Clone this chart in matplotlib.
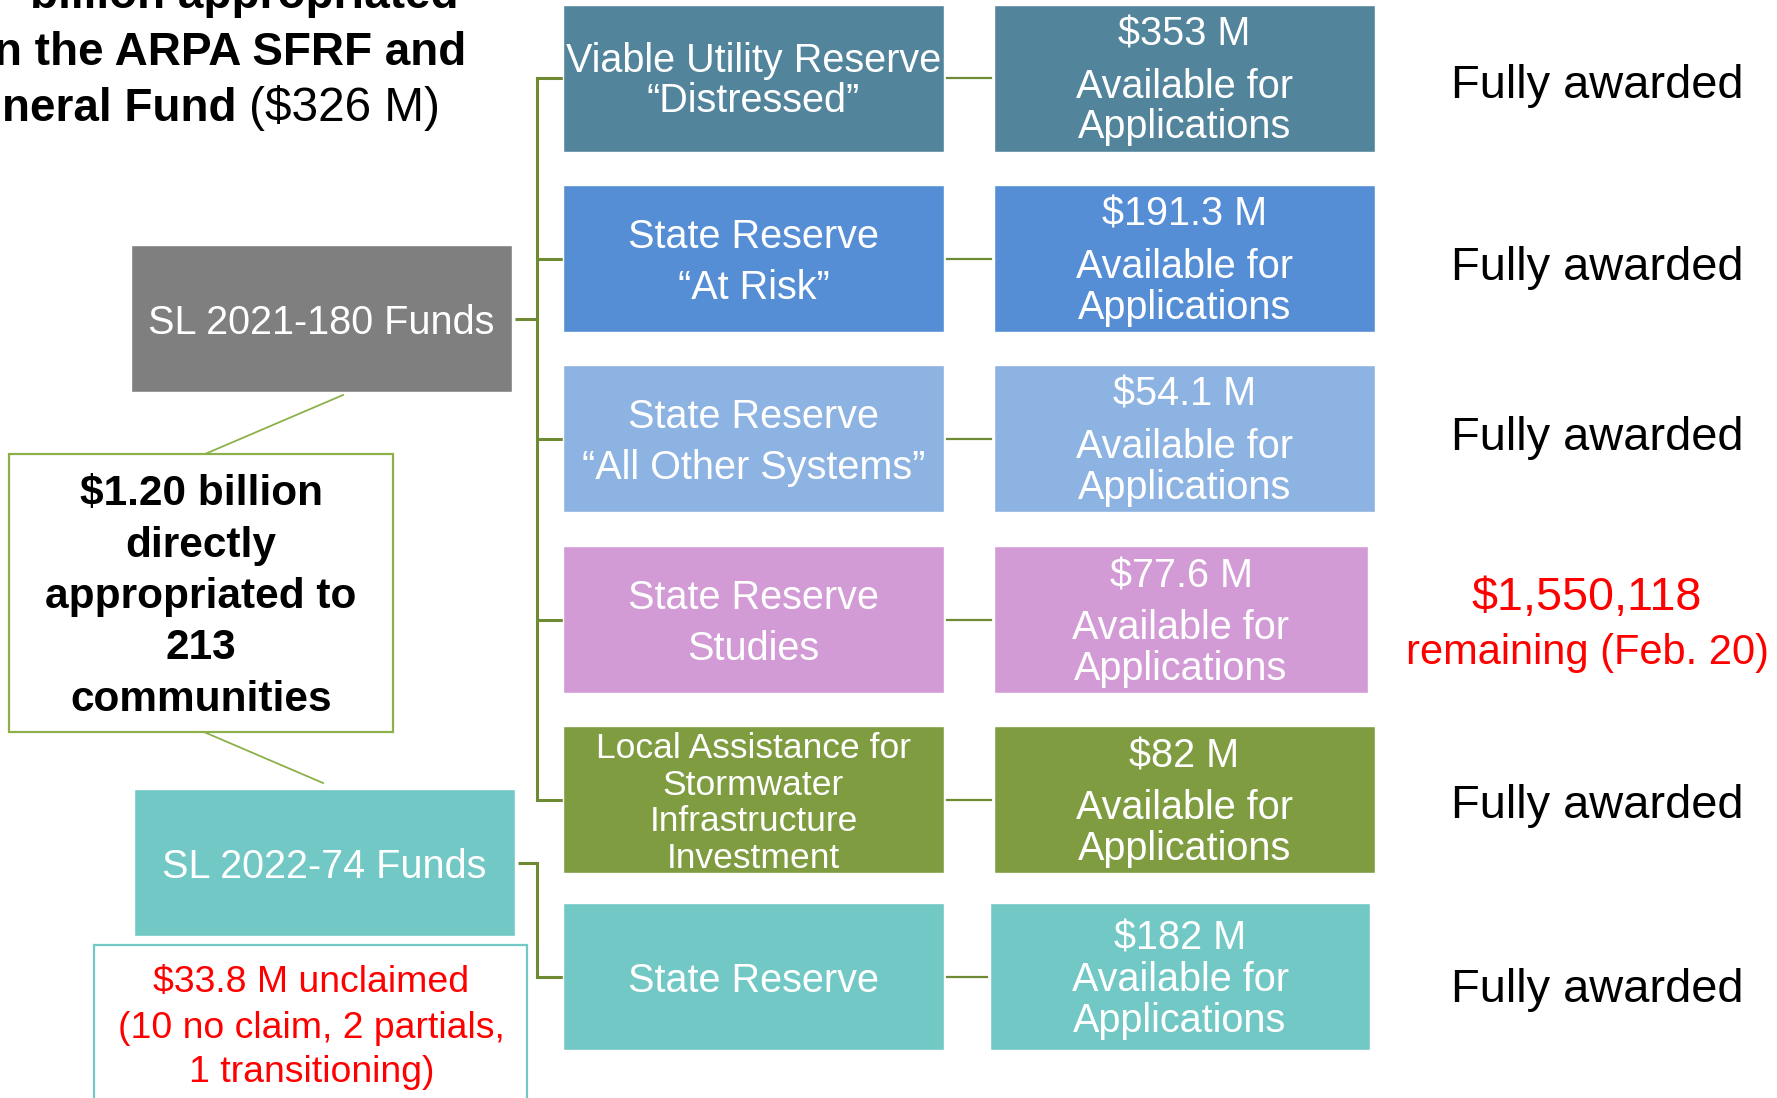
import matplotlib
import matplotlib.pyplot as plt
from matplotlib.patches import Rectangle

matplotlib.use('Agg')

# --- content ---------------------------------------------------------------
TITLE_LINES = ["billion appropriated", "n the ARPA SFRF and", "neral Fund"]
TITLE_TAIL = "($326 M)"

SOURCES = ["SL 2021-180 Funds", "SL 2022-74 Funds"]
SUMMARY = ["$1.20 billion", "directly", "appropriated to", "213", "communities"]
UNCLAIMED = ["$33.8 M unclaimed", "(10 no claim, 2 partials,", "1 transitioning)"]

PROGRAMS = [
    ["Viable Utility Reserve", "\u201cDistressed\u201d"],
    ["State Reserve", "\u201cAt Risk\u201d"],
    ["State Reserve", "\u201cAll Other Systems\u201d"],
    ["State Reserve", "Studies"],
    ["Local Assistance for", "Stormwater", "Infrastructure", "Investment"],
    ["State Reserve"],
]
PROGRAM_SOURCE = [0, 0, 0, 0, 0, 1]
AMOUNTS = ["$353 M", "$191.3 M", "$54.1 M", "$77.6 M", "$82 M", "$182 M"]
STATUS = ["Fully awarded", "Fully awarded", "Fully awarded",
          None, "Fully awarded", "Fully awarded"]
REMAINING = ["$1,550,118", "remaining (Feb. 20)"]

PROGRAM_COLORS = ["#52849C", "#558ED5", "#8DB3E2", "#D29BD6", "#7F9C41", "#71C8C5"]
SOURCE_COLORS = ["#7F7F7F", "#71C8C5"]

LINK = "#6E8A32"
NOTE_GREEN = "#8DB04A"
RED = "#FF0000"

# --- layout (pixel space, y downward) --------------------------------------
W, H = 1777, 1098
MID_X = (563, 944)
RIGHT_X = (994, 1375)
ROW_TOP = [4.5, 185, 365, 546, 726, 903]
ROW_H = 147
STATUS_DY = [4, 5.5, -4.5, 0, 2.5, 9.5]
TRUNK_X = 537
SRC_BOX = [(131, 245, 381, 147), (134, 789, 381, 147)]
NOTE_BOX = (9, 454, 384, 278)
UNCL_BOX = (94, 945, 433, 200)
DY = 4  # va='center' sits a little high for this font

plt.rcParams['font.family'] = ['Liberation Sans', 'DejaVu Sans']

fig = plt.figure(figsize=(W / 100, H / 100), dpi=100)
ax = fig.add_axes([0, 0, 1, 1])
ax.set_xlim(0, W)
ax.set_ylim(H, 0)
ax.axis('off')


def box(x, y, w, h, color):
    ax.add_patch(Rectangle((x, y), w, h, facecolor=color,
                           edgecolor='white', linewidth=1, zorder=2))


def label(x, y, t, **kw):
    ax.text(x, y + DY, t, ha='center', va='center', zorder=4, **kw)


def lines(x, yc, rows, spacing, **kw):
    n = len(rows)
    for i, t in enumerate(rows):
        label(x, yc + (i - (n - 1) / 2) * spacing, t, **kw)


# title (cut by the slide edge)
for t, xr, yb in zip(TITLE_LINES, [459, 466, 236], [8, 65, 121]):
    ax.text(xr, yb, t, ha='right', va='baseline', fontsize=33,
            fontweight='bold', color='black')
ax.text(249, 121, TITLE_TAIL, ha='left', va='baseline', fontsize=34.4,
        color='black')

# source boxes
for (x, y, w, h), name, c in zip(SRC_BOX, SOURCES, SOURCE_COLORS):
    box(x, y, w, h, c)
    label(x + w / 2, y + h / 2, name, fontsize=28.5, color='white')

# summary note between the two source boxes
nx, ny, nw, nh = NOTE_BOX
ax.add_patch(Rectangle((nx, ny), nw, nh, facecolor='white',
                       edgecolor=NOTE_GREEN, linewidth=1.6, zorder=2))
ax.plot([343, 205], [395, ny], color=NOTE_GREEN, lw=1.3, zorder=1)
ax.plot([204, 323], [ny + nh, 783], color=NOTE_GREEN, lw=1.3, zorder=1)
lines(nx + nw / 2, 593, SUMMARY, 51.3, fontsize=30.5,
      fontweight='bold', color='black')

# unclaimed note
ux, uy, uw, uh = UNCL_BOX
ax.add_patch(Rectangle((ux, uy), uw, uh, facecolor='white',
                       edgecolor=SOURCE_COLORS[1], linewidth=1.6, zorder=2))
lines(ux + uw / 2 + 1, 1024, UNCLAIMED, 45, fontsize=26.9, color=RED)

# tree connectors
centers = [t + ROW_H / 2 for t in ROW_TOP]
src_rows = [[c for c, s in zip(centers, PROGRAM_SOURCE) if s == k] for k in (0, 1)]
for k, (x, y, w, h) in enumerate(SRC_BOX):
    ys = y + h / 2
    rows = src_rows[k]
    ax.plot([x + w + 3, TRUNK_X], [ys, ys], color=LINK, lw=2.2,
            solid_capstyle='butt', zorder=1)
    ax.plot([TRUNK_X, TRUNK_X], [min(rows + [ys]), max(rows + [ys])],
            color=LINK, lw=2.2, solid_capstyle='projecting', zorder=1)
    for r in rows:
        ax.plot([TRUNK_X, MID_X[0]], [r, r], color=LINK, lw=2.2, zorder=1)

# program rows
for i, (prog, amt, c) in enumerate(zip(PROGRAMS, AMOUNTS, PROGRAM_COLORS)):
    top = ROW_TOP[i]
    yc = centers[i]
    box(MID_X[0], top, MID_X[1] - MID_X[0], ROW_H, c)
    rx0, rx1 = RIGHT_X
    if i == 3:
        rx1 -= 7
    if i == 5:
        rx0, rx1 = 990, 1370
    box(rx0, top, rx1 - rx0, ROW_H, c)
    ax.plot([MID_X[1] + 3, rx0 - 3], [yc, yc], color=LINK, lw=1.6, zorder=1)

    mx = (MID_X[0] + MID_X[1]) / 2
    if len(prog) == 4:
        lines(mx, yc, prog, 36.6, fontsize=25.5, color='white')
    elif i == 0:
        lines(mx, yc - 1, prog, 41, fontsize=28.5, color='white')
    else:
        lines(mx, yc, prog, 51, fontsize=28.5, color='white')

    cx = (rx0 + rx1) / 2
    offs = (31, 73, 114) if i == 5 else (26, 78, 119)
    label(cx, top + offs[0], amt, fontsize=28.5, color='white')
    label(cx, top + offs[1], "Available for", fontsize=28.5, color='white')
    label(cx, top + offs[2], "Applications", fontsize=28.5, color='white')

    if STATUS[i]:
        label(1597, yc + STATUS_DY[i], STATUS[i], fontsize=33.8, color='black')
    else:
        label(1587, yc - 25.5, REMAINING[0], fontsize=33.6, color=RED)
        label(1587, yc + 29.5, REMAINING[1], fontsize=30, color=RED)

fig.savefig('out.png', dpi=100, facecolor='white')
